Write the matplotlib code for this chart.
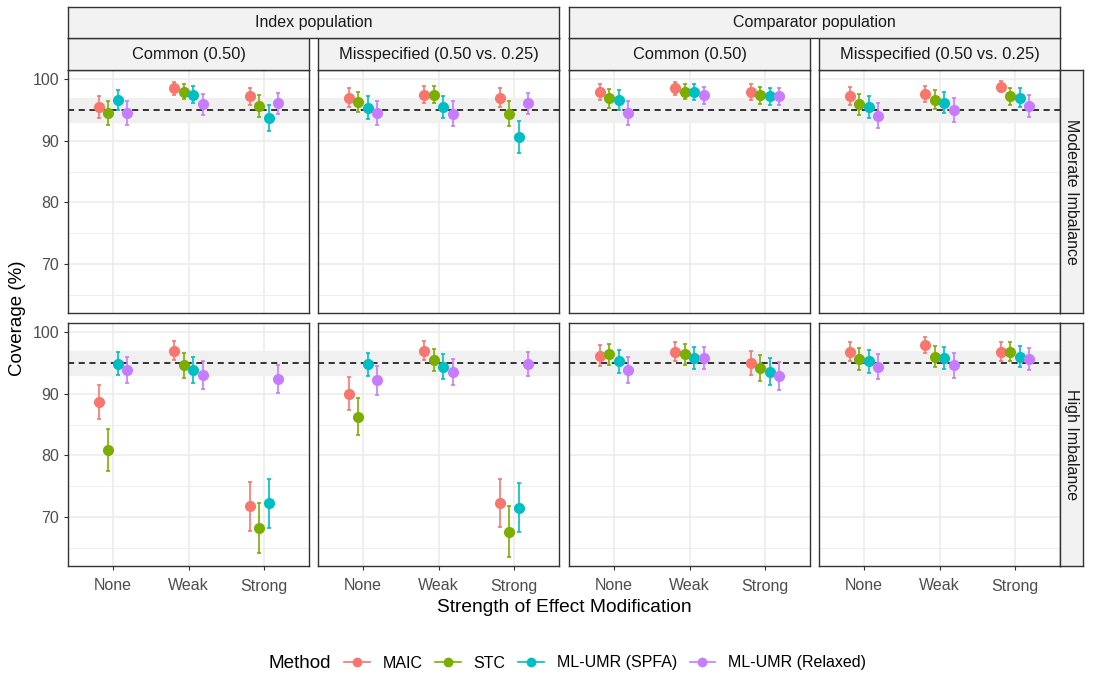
import numpy as np
import matplotlib
matplotlib.use("Agg")
import matplotlib.pyplot as plt
from matplotlib.lines import Line2D

plt.rcParams["font.family"] = ["Liberation Sans", "DejaVu Sans"]

categories = ["None", "Weak", "Strong"]
methods = ["MAIC", "STC", "ML-UMR (SPFA)", "ML-UMR (Relaxed)"]
colors = ["#F8766D", "#7CAE00", "#00BFC4", "#C77CFF"]
populations = ["Index population", "Comparator population"]
scenarios = ["Common (0.50)", "Misspecified (0.50 vs. 0.25)"]
imbalances = ["Moderate Imbalance", "High Imbalance"]

# coverage (%), one row per panel: moderate (4 panels) then high (4 panels)
maic_cov = [
    [95.5, 98.5, 97.2], [97.0, 97.5, 97.0], [97.9, 98.5, 97.9], [97.3, 97.6, 98.8],
    [88.7, 97.0, 71.7], [90.0, 97.0, 72.2], [96.2, 96.8, 95.0], [96.8, 97.9, 96.8],
]
stc_cov = [
    [94.5, 98.0, 95.6], [96.3, 97.5, 94.4], [96.9, 98.0, 97.4], [95.9, 96.7, 97.2],
    [80.9, 94.6, 68.2], [86.3, 95.5, 67.6], [96.4, 96.4, 94.2], [95.7, 96.0, 96.8],
]
spfa_cov = [
    [96.6, 97.5, 93.7], [95.4, 95.5, 90.6], [96.6, 97.9, 97.2], [95.5, 96.2, 97.0],
    [94.9, 93.8, 72.2], [94.8, 94.4, 71.5], [95.3, 95.8, 93.6], [95.3, 95.8, 96.0],
]
relaxed_cov = [
    [94.5, 95.9, 96.1], [94.5, 94.4, 96.1], [94.5, 97.4, 97.2], [94.1, 95.0, 95.7],
    [93.8, 93.0, 92.4], [92.2, 93.5, 94.8], [93.8, 95.8, 92.9], [94.4, 94.6, 95.7],
]

# error bar half widths
maic_err = [
    [1.8, 1.1, 1.45], [1.5, 1.35, 1.5], [1.25, 1.1, 1.25], [1.45, 1.35, 0.95],
    [2.75, 1.5, 3.95], [2.65, 1.5, 3.9], [1.7, 1.55, 1.9], [1.55, 1.25, 1.55],
]
stc_err = [
    [2.0, 1.25, 1.8], [1.65, 1.35, 2.0], [1.5, 1.25, 1.4], [1.75, 1.55, 1.45],
    [3.45, 2.0, 4.1], [3.0, 1.8, 4.1], [1.65, 1.65, 2.05], [1.8, 1.7, 1.55],
]
spfa_err = [
    [1.6, 1.35, 2.15], [1.85, 1.8, 2.55], [1.6, 1.25, 1.45], [1.8, 1.7, 1.5],
    [1.9, 2.1, 3.95], [1.9, 2.0, 3.95], [1.85, 1.75, 2.15], [1.85, 1.75, 1.7],
]
relaxed_err = [
    [2.0, 1.75, 1.7], [2.0, 2.0, 1.7], [2.0, 1.4, 1.45], [2.05, 1.9, 1.8],
    [2.1, 2.25, 2.3], [2.35, 2.15, 1.95], [2.1, 1.75, 2.25], [2.0, 2.0, 1.8],
]

nominal = 95
band = (93.09, 96.91)

coverage = [maic_cov, stc_cov, spfa_cov, relaxed_cov]
errors = [maic_err, stc_err, spfa_err, relaxed_err]

W, H = 1096, 674
fig = plt.figure(figsize=(W / 100, H / 100), dpi=100)


def px_axes(x0, y0, x1, y1):
    return fig.add_axes([x0 / W, 1 - y1 / H, (x1 - x0) / W, (y1 - y0) / H])


col_left = [68, 318, 569, 819]
panel_w = 241
row_top = [70, 323]
panel_h = 243
border = "#333333"
strip_fill = "#F2F2F2"
offsets = [-0.1875, -0.0625, 0.0625, 0.1875]
x = np.arange(1, len(categories) + 1)


def strip(x0, y0, x1, y1, text, rotation=0, size=11.8):
    ax = px_axes(x0, y0, x1, y1)
    ax.set_facecolor(strip_fill)
    ax.set_xticks([])
    ax.set_yticks([])
    for s in ax.spines.values():
        s.set_color(border)
        s.set_linewidth(1.0)
    ax.text(0.5, 0.5, text, transform=ax.transAxes, ha="center", va="center",
            fontsize=size, color="#1A1A1A", rotation=rotation)


for r in range(2):
    for c in range(4):
        p = r * 4 + c
        ax = px_axes(col_left[c], row_top[r], col_left[c] + panel_w, row_top[r] + panel_h)
        ax.set_xlim(0.4, 3.6)
        ax.set_ylim(62.0, 101.5)
        ax.set_axisbelow(True)
        ax.set_xticks(x)
        ax.set_yticks([70, 80, 90, 100])
        ax.set_yticks([65, 75, 85, 95], minor=True)
        ax.grid(True, which="major", color="#EBEBEB", lw=1.1)
        ax.grid(True, which="minor", axis="y", color="#EBEBEB", lw=0.6)
        ax.axhspan(band[0], band[1], color="#F0F0F0", zorder=1)
        ax.axhline(nominal, color="black", lw=1.1, ls=(0, (4, 3)), zorder=2)
        for m in range(4):
            ax.errorbar(x + offsets[m], coverage[m][p], yerr=errors[m][p], fmt="o",
                        color=colors[m], ms=7, elinewidth=1.2, capsize=1.6,
                        capthick=1.2, zorder=3)
        for s in ax.spines.values():
            s.set_color(border)
            s.set_linewidth(1.0)
        ax.tick_params(which="both", length=3, color="#333333", labelcolor="#4D4D4D",
                       labelsize=11.5)
        ax.tick_params(axis="x", pad=6)
        ax.tick_params(which="minor", length=0)
        if c == 0:
            ax.set_yticklabels(["70", "80", "90", "100"])
        else:
            ax.set_yticklabels([])
            ax.tick_params(axis="y", which="both", length=0)
        if r == 1:
            ax.set_xticklabels(categories)
        else:
            ax.set_xticklabels([])
            ax.tick_params(axis="x", length=0)

# column strips
for c in range(4):
    strip(col_left[c], 38, col_left[c] + panel_w, 70, scenarios[c % 2])
strip(col_left[0], 7, col_left[1] + panel_w, 38, populations[0], size=11.5)
strip(col_left[2], 7, col_left[3] + panel_w, 38, populations[1], size=11.5)

# row strips
for r in range(2):
    strip(col_left[3] + panel_w, row_top[r], col_left[3] + panel_w + 23,
          row_top[r] + panel_h, imbalances[r], rotation=-90, size=11.5)

fig.text(564 / W, 1 - 607 / H, "Strength of Effect Modification", ha="center",
         va="center", fontsize=13.8, color="black")
fig.text(18 / W, 1 - 318 / H, "Coverage (%)", ha="center", va="center",
         fontsize=13.5, rotation=90, color="black")

handles = [Line2D([], [], color=col, marker="o", ms=6, lw=1.2) for col in colors]
fig.text(300 / W, 1 - 663 / H, "Method", ha="center", va="center", fontsize=13.6)
fig.legend(handles, methods, loc="center", bbox_to_anchor=(605 / W, 1 - 663 / H),
           ncol=4, frameon=False, handlelength=1.6, columnspacing=0.8,
           handletextpad=0.8, fontsize=11.5)

fig.savefig("out.png", dpi=100)
